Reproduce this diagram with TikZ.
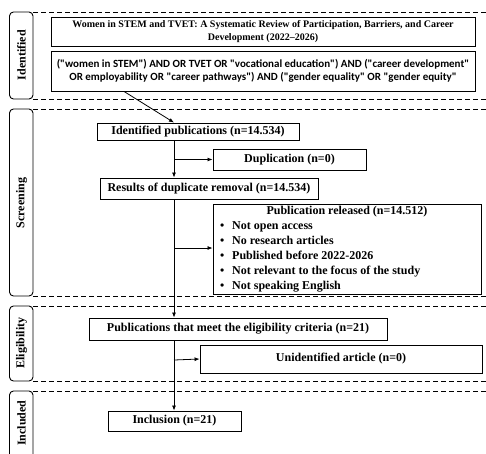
\documentclass[tikz,border=0pt]{standalone}
\usepackage{fontspec}
\setmainfont{Liberation Serif}
\newfontfamily\qfont{Carlito}
\usetikzlibrary{arrows.meta}
\begin{document}
\begin{tikzpicture}[x=1pt,y=-1pt,
  box/.style={draw,line width=0.9pt,fill=white,inner sep=0pt,align=center,font=\fontsize{12}{14}\selectfont\bfseries},
  lane/.style={draw,line width=0.9pt,rounded corners=4pt},
  lanetext/.style={rotate=90,font=\fontsize{12}{14}\selectfont\bfseries,inner sep=0pt},
  sep/.style={line width=0.8pt,dash pattern=on 5pt off 3pt},
  arr/.style={line width=0.8pt,-{Latex[length=5pt,width=4pt]}},
  con/.style={line width=0.8pt}]
\clip (0,0) rectangle (486,453);
\fill[white] (0,0) rectangle (486,453);
% lanes
\draw[lane] (9.5,12) rectangle (33,99);
\draw[lane] (9.5,109) rectangle (33,296);
\draw[lane] (9.5,306) rectangle (33,381);
\draw[lane] (9.5,391) rectangle (33,470);
\node[lanetext] (l1) at (21.5,55) {Identified};
\node[lanetext] (l2) at (21.5,203) {Screening};
\node[lanetext] (l3) at (21.5,343) {Eligibility};
\node[lanetext] (l4) at (21.5,423) {Included};
\draw[sep] (33,12) -- (486,12);
\draw[sep] (33,99) -- (486,99);
\draw[sep] (33,109) -- (486,109);
\draw[sep] (33,296) -- (486,296);
\draw[sep] (33,306) -- (486,306);
\draw[sep] (33,381) -- (486,381);
\draw[sep] (33,391) -- (486,391);
% boxes
\node[box,minimum width=424pt,minimum height=29pt,font=\fontsize{10}{13}\selectfont\bfseries] (title) at (263,31.5)
  {Women in STEM and TVET: A Systematic Review of Participation, Barriers, and Career\\Development (2022--2026)};
\node[box,minimum width=424pt,minimum height=40pt,font=\qfont\fontsize{11}{13}\selectfont\bfseries] (query) at (263,71)
  {("women in STEM") AND OR TVET OR "vocational education") AND ("career development"\\OR employability OR "career pathways") AND ("gender equality" OR "gender equity"};
\node[box,minimum width=202pt,minimum height=17pt] (idpub) at (198,131.5) {Identified publications (n=14.534)};
\node[box,minimum width=153pt,minimum height=21pt] (dup) at (289.5,159.5) {Duplication (n=0)};
\node[box,minimum width=218pt,minimum height=21pt] (res) at (209,188.5) {Results of duplicate removal (n=14.534)};
\node[box,minimum width=268pt,minimum height=90pt] (rel) at (347,249) {};
\node[font=\fontsize{12}{15}\selectfont\bfseries,inner sep=0pt] (relhead) at (347,212) {Publication released (n=14.512)};
\node[font=\fontsize{12}{15}\selectfont\bfseries,inner sep=0pt,anchor=north west,align=left] (rellist) at (220,221.5)
  {\makebox[12pt][l]{\textbullet}Not open access\\
   \makebox[12pt][l]{\textbullet}No research articles\\
   \makebox[12pt][l]{\textbullet}Published before 2022-2026\\
   \makebox[12pt][l]{\textbullet}Not relevant to the focus of the study\\
   \makebox[12pt][l]{\textbullet}Not speaking English};
\node[box,minimum width=298pt,minimum height=22pt] (elig) at (238,329) {Publications that meet the eligibility criteria (n=21)};
\node[box,minimum width=282pt,minimum height=28pt] (unid) at (341,359) {Unidentified article (n=0)};
\node[box,minimum width=133pt,minimum height=20pt] (incl) at (174.5,421) {Inclusion (n=21)};
% connectors
\coordinate (trunk) at (174,0);
\coordinate (qa) at (124,0);
\coordinate (b1) at (174,159.5);
\coordinate (b2) at (174,248);
\coordinate (b3) at (174,360);
\draw[arr] (query.south -| qa) -- (idpub.north -| trunk);
\draw[arr] (idpub.south -| trunk) -- (res.north -| trunk);
\draw[arr] (res.south -| trunk) -- (elig.north -| trunk);
\draw[arr] (elig.south -| trunk) -- (incl.north -| trunk);
\draw[arr] (b1) -- (dup.west);
\draw[arr] (b2) -- (b2 -| rel.west);
\draw[arr] (b3) -- (unid.west);
\end{tikzpicture}
\end{document}
